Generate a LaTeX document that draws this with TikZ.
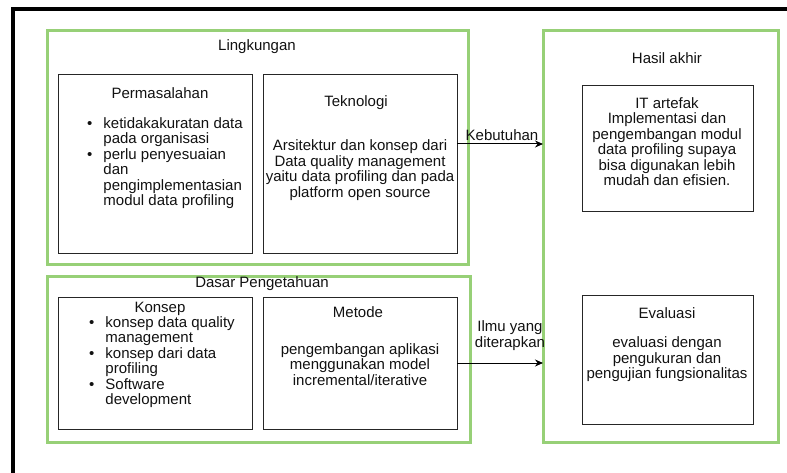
\documentclass[tikz,border=0pt]{standalone}
\usepackage{fontspec}
\setmainfont{Liberation Sans}
\usetikzlibrary{arrows.meta}
\definecolor{boxgreen}{HTML}{97D077}
\definecolor{txtgray}{HTML}{111111}
\tikzset{
  greenbox/.style={draw=boxgreen, line width=3pt, inner sep=0pt, outer sep=0pt},
  itembox/.style={draw=black!85, line width=1pt, inner sep=0pt, outer sep=0pt},
  txt/.style={text=txtgray, inner sep=0pt, font=\fontsize{15}{15.5}\selectfont, align=center},
  lijst/.style={txt, anchor=west, align=left},
}
\begin{document}
\begin{tikzpicture}[x=1pt, y=-1pt, >={Stealth[length=8pt, width=7pt]}]
    \useasboundingbox (0,0) rectangle (787,473);

    % Outer frame (cut at the right and bottom)
    \draw[line width=3.5pt] (13,480) -- (13,9) -- (795,9);

    % Green groups
    \node[greenbox, minimum width=421pt, minimum height=233pt] (lingkungan) at (257.5,147.5) {};
    \node[greenbox, minimum width=423pt, minimum height=166pt] (dasar) at (258.5,359) {};
    \node[greenbox, minimum width=235pt, minimum height=411pt] (hasil) at (660.5,236.5) {};

    % Inner boxes
    \node[itembox, minimum width=194pt, minimum height=178pt] (masalah) at (155,164) {};
    \node[itembox, minimum width=194pt, minimum height=178pt] (tekno) at (360,164) {};
    \node[itembox, minimum width=194pt, minimum height=132pt] (konsep) at (155,363) {};
    \node[itembox, minimum width=194pt, minimum height=132pt] (metode) at (360,363) {};
    \node[itembox, minimum width=171pt, minimum height=126pt] (artefak) at (667.5,149) {};
    \node[itembox, minimum width=171pt, minimum height=129pt] (evaluasi) at (667.5,359.5) {};

    % Group titles
    \node[txt] (lingkungantitle) at (257,47) {Lingkungan};
    \node[txt] (dasartitle) at (262,284) {Dasar Pengetahuan};
    \node[txt] (hasiltitle) at (667,58) {Hasil akhir};

    % Permasalahan
    \node[txt] (masalahtitle) at (160,93) {Permasalahan};
    \node[lijst] (masalahlist) at (87,164) {\begin{tabular}{@{}l@{\hspace{11pt}}l@{}}
        \textbullet & ketidakakuratan data\\
                    & pada organisasi\\
        \textbullet & perlu penyesuaian\\
                    & dan\\
                    & pengimplementasian\\
                    & modul data profiling
    \end{tabular}};

    % Teknologi
    \node[txt] (teknotitle) at (356,103) {Teknologi};
    \node[txt] (teknotext) at (360,170) {Arsitektur dan konsep dari\\Data quality management\\yaitu data profiling dan pada\\platform open source};

    % Konsep
    \node[txt] (konseptitle) at (160,309) {Konsep};
    \node[lijst] (konseplist) at (89,363) {\begin{tabular}{@{}l@{\hspace{11pt}}l@{}}
        \textbullet & konsep data quality\\
                    & management\\
        \textbullet & konsep dari data\\
                    & profiling\\
        \textbullet & Software\\
                    & development
    \end{tabular}};

    % Metode
    \node[txt] (metodetitle) at (358,312) {Metode};
    \node[txt] (metodetext) at (360,364.5) {pengembangan aplikasi\\menggunakan model\\incremental/iterative};

    % Hasil akhir
    \node[txt] (artefaktext) at (667,141.5) {IT artefak\\Implementasi dan\\pengembangan modul\\data profiling supaya\\bisa digunakan lebih\\mudah dan efisien.};
    \node[txt] (evaluasititle) at (667,313) {Evaluasi};
    \node[txt] (evaluasitext) at (667,359.5) {evaluasi dengan\\pengukuran dan\\pengujian fungsionalitas};

    % Arrows
    \coordinate (kebstart) at ([yshift=20pt]tekno.east);
    \draw[->, line width=1pt] (kebstart) -- (kebstart -| hasil.west);
    \node[txt] (kebutuhan) at (502,135) {Kebutuhan};

    \draw[->, line width=1pt] (metode.east) -- (metode.east -| hasil.west);
    \node[txt] (ilmu) at (510,335.5) {Ilmu yang\\diterapkan};
\end{tikzpicture}
\end{document}
